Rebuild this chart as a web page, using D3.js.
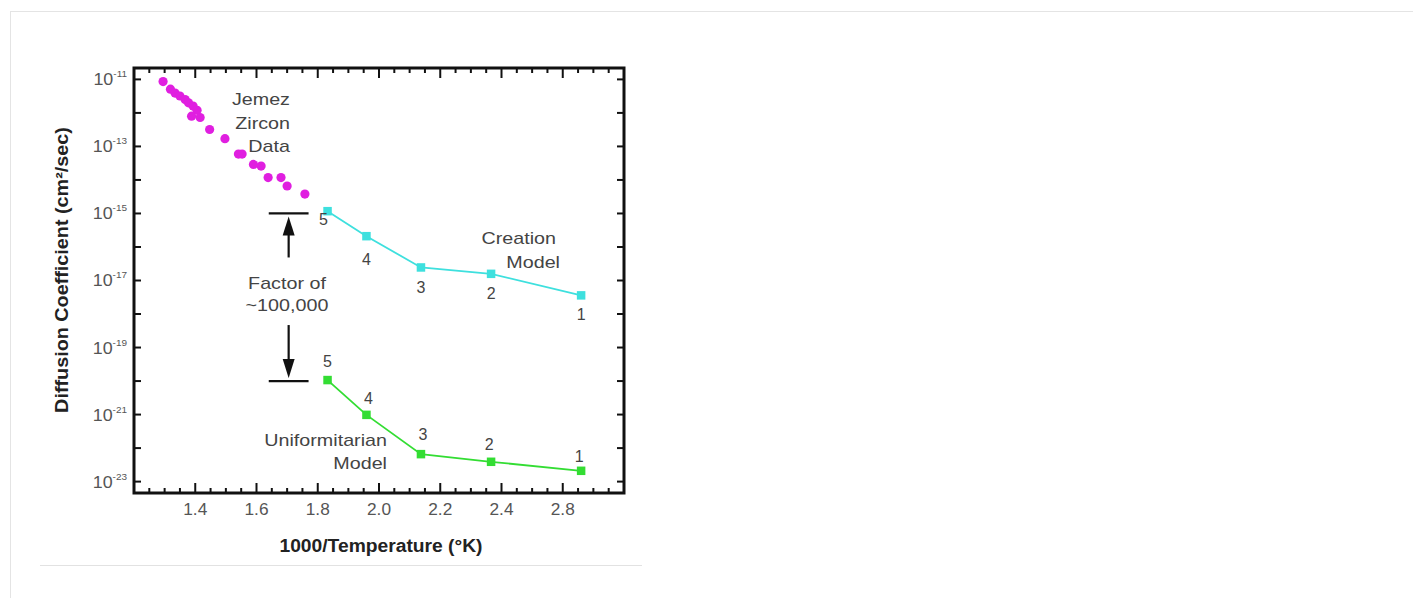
<!DOCTYPE html>
<html>
<head>
<meta charset="utf-8">
<script src="https://cdn.jsdelivr.net/npm/d3@7"></script>
<style>
  html, body { margin: 0; padding: 0; background: #fff; }
  svg { display: block; }
  text { font-family: "Liberation Sans", Arial, sans-serif; }
</style>
</head>
<body>
<svg id="chart" width="1413" height="598"></svg>
<script>
// ---------------- DATA ----------------
// Jemez zircon measurements: 1000/T (1/K) and diffusion coefficient (cm^2/s)
const jemezX = [1.295, 1.319, 1.334, 1.350, 1.367, 1.378, 1.393, 1.406, 1.388, 1.416,
                1.447, 1.497, 1.541, 1.553, 1.590, 1.615, 1.638, 1.680, 1.700, 1.758];
const jemezD = [8.6e-12, 5.1e-12, 3.9e-12, 3.2e-12, 2.5e-12, 2.0e-12, 1.6e-12, 1.2e-12, 8.0e-13, 7.3e-13,
                3.2e-13, 1.7e-13, 5.9e-14, 5.9e-14, 2.9e-14, 2.6e-14, 1.18e-14, 1.18e-14, 6.6e-15, 3.8e-15];

// Model sample numbers and their 1000/T positions
const sampleLabels = ["5", "4", "3", "2", "1"];
const sampleX = [1.832, 1.959, 2.137, 2.366, 2.660];
const creationD = [1.17e-15, 2.1e-16, 2.45e-17, 1.58e-17, 3.6e-18];
const uniformD  = [1.07e-20, 9.8e-22, 6.6e-23, 3.9e-23, 2.1e-23];

// "Factor of ~100,000" bracket levels
const factorLevels = [1e-15, 1e-20];
const factorX = [1.64, 1.77];
const factorArrowX = 1.705;

// Axis ticks
const xTickValues = [1.4, 1.6, 1.8, 2.0, 2.2, 2.4, 2.6];
const xTickLabels = ["1.4", "1.6", "1.8", "2.0", "2.2", "2.4", "2.8"];
const yTickExponents = [-11, -13, -15, -17, -19, -21, -23];
const xDomain = [1.2, 2.8];
const yDomainExp = [-23.34, -10.66];

// ---------------- LAYOUT ----------------
const L = 134, R = 624, T = 68, B = 493;
const svg = d3.select("#chart");

svg.append("line").attr("x1", 10).attr("x2", 1413).attr("y1", 11.5).attr("y2", 11.5)
   .attr("stroke", "#e4e4e4").attr("stroke-width", 1);
svg.append("line").attr("x1", 10.5).attr("x2", 10.5).attr("y1", 11).attr("y2", 598)
   .attr("stroke", "#e4e4e4").attr("stroke-width", 1);
svg.append("line").attr("x1", 40).attr("x2", 642).attr("y1", 565.5).attr("y2", 565.5)
   .attr("stroke", "#e2e2e2").attr("stroke-width", 1);

const x = d3.scaleLinear().domain(xDomain).range([L, R]);
const y = d3.scaleLog().domain(yDomainExp.map(e => Math.pow(10, e))).range([B, T]);

function stretch(sel, sx) {
  sel.each(function() {
    const t = d3.select(this);
    const px = +t.attr("x"), py = +t.attr("y");
    t.attr("transform", `translate(${px},${py}) scale(${sx},1) translate(${-px},${-py})`);
  });
  return sel;
}

// ---------------- AXES ----------------
const minorX = d3.range(0, 33).map(i => 1.2 + i * 0.05).filter(v => v <= 2.8001);
const majorXSet = new Set(xTickValues.map(v => v.toFixed(2)));
const decades = d3.range(-23, -10).map(e => Math.pow(10, e));

const axisG = svg.append("g").attr("stroke", "#111").attr("stroke-width", 2);

minorX.forEach(v => {
  const isMajor = majorXSet.has(v.toFixed(2));
  const len = isMajor ? 10 : 5;
  const px = x(v);
  if (px <= L + 1 || px >= R - 1) return;
  axisG.append("line").attr("x1", px).attr("x2", px).attr("y1", B).attr("y2", B - len);
  axisG.append("line").attr("x1", px).attr("x2", px).attr("y1", T).attr("y2", T + len);
});
decades.forEach(d => {
  const py = y(d);
  axisG.append("line").attr("x1", L).attr("x2", L + 7).attr("y1", py).attr("y2", py);
  axisG.append("line").attr("x1", R).attr("x2", R - 7).attr("y1", py).attr("y2", py);
});

svg.append("rect").attr("x", L).attr("y", T).attr("width", R - L).attr("height", B - T)
   .attr("fill", "none").attr("stroke", "#111").attr("stroke-width", 3);

// x tick labels
svg.append("g").selectAll("text").data(xTickValues).join("text")
  .attr("x", d => x(d)).attr("y", 515)
  .attr("text-anchor", "middle").attr("font-size", 16).attr("fill", "#555")
  .text((d, i) => xTickLabels[i])
  .call(s => stretch(s, 1.08));

// y tick labels 10^n
const yl = svg.append("g").selectAll("text").data(yTickExponents).join("text")
  .attr("x", 127).attr("y", e => y(Math.pow(10, e)) + 6)
  .attr("text-anchor", "end").attr("fill", "#555").attr("font-size", 17);
yl.append("tspan").text("10");
yl.append("tspan").attr("font-size", 9.5).attr("dy", -8).text(e => "-" + Math.abs(e));
stretch(yl, 1.05);

// axis titles
svg.append("text").attr("x", 381).attr("y", 552).attr("text-anchor", "middle")
  .attr("font-size", 18).attr("font-weight", "bold").attr("fill", "#222")
  .text("1000/Temperature (°K)").call(s => stretch(s, 1.07));

svg.append("text")
  .attr("transform", "translate(68,270) rotate(-90) scale(1.1,1)")
  .attr("text-anchor", "middle").attr("font-size", 18).attr("font-weight", "bold").attr("fill", "#222")
  .text("Diffusion Coefficient (cm²/sec)");

// ---------------- DATA MARKS ----------------
const magenta = "#e01fe0", cyan = "#3ee0de", green = "#33dd33";

svg.append("g").selectAll("circle").data(jemezX).join("circle")
  .attr("cx", d => x(d)).attr("cy", (d, i) => y(jemezD[i])).attr("r", 4.6)
  .attr("fill", magenta);

function series(values, color) {
  const pts = sampleX.map((v, i) => [x(v), y(values[i])]);
  svg.append("path").attr("d", d3.line()(pts)).attr("fill", "none")
    .attr("stroke", color).attr("stroke-width", 1.8);
  svg.append("g").selectAll("rect").data(pts).join("rect")
    .attr("x", d => d[0] - 4.25).attr("y", d => d[1] - 4.25).attr("width", 8.5).attr("height", 8.5)
    .attr("fill", color);
  return pts;
}
const cPts = series(creationD, cyan);
const uPts = series(uniformD, green);

const creationLabelOffset = [[-4, 14], [0, 29], [0, 26], [0, 25], [0, 25]];
const uniformLabelOffset = [[0, -13], [2, -11], [2, -14], [-2, -12], [-2, -9]];
svg.append("g").selectAll("text").data(cPts).join("text")
  .attr("x", (d, i) => d[0] + creationLabelOffset[i][0]).attr("y", (d, i) => d[1] + creationLabelOffset[i][1])
  .attr("text-anchor", "middle").attr("font-size", 16).attr("fill", "#444")
  .text((d, i) => sampleLabels[i]);
svg.append("g").selectAll("text").data(uPts).join("text")
  .attr("x", (d, i) => d[0] + uniformLabelOffset[i][0]).attr("y", (d, i) => d[1] + uniformLabelOffset[i][1])
  .attr("text-anchor", "middle").attr("font-size", 16).attr("fill", "#444")
  .text((d, i) => sampleLabels[i]);

// ---------------- ANNOTATIONS ----------------
function annot(lines, xx, yy, anchor, lh) {
  lines.forEach((t, i) => {
    svg.append("text").attr("x", xx).attr("y", yy + i * lh).attr("text-anchor", anchor)
      .attr("font-size", 17).attr("fill", "#444").text(t).call(s => stretch(s, 1.16));
  });
}
annot(["Jemez", "Zircon"], 290, 105, "end", 24);
annot(["Data"], 290, 152, "end", 0);
annot(["Creation"], 556, 244, "end", 0);
annot(["Model"], 560, 268, "end", 0);
annot(["Uniformitarian"], 387, 446, "end", 0);
annot(["Model"], 387, 469, "end", 0);
annot(["Factor of", "~100,000"], 287, 289, "middle", 22);

const fg = svg.append("g").attr("stroke", "#111").attr("stroke-width", 2.2);
factorLevels.forEach(lv => {
  fg.append("line").attr("x1", x(factorX[0])).attr("x2", x(factorX[1]))
    .attr("y1", y(lv)).attr("y2", y(lv));
});
const ax = x(factorArrowX);
const yTop = y(factorLevels[0]), yBot = y(factorLevels[1]);
fg.append("line").attr("x1", ax).attr("x2", ax).attr("y1", yTop + 44).attr("y2", yTop + 14);
svg.append("path").attr("d", `M${ax},${yTop + 3} L${ax - 6},${yTop + 22} L${ax + 6},${yTop + 22} Z`).attr("fill", "#111");
fg.append("line").attr("x1", ax).attr("x2", ax).attr("y1", yBot - 56).attr("y2", yBot - 16);
svg.append("path").attr("d", `M${ax},${yBot - 3} L${ax - 6},${yBot - 22} L${ax + 6},${yBot - 22} Z`).attr("fill", "#111");
</script>
</body>
</html>
